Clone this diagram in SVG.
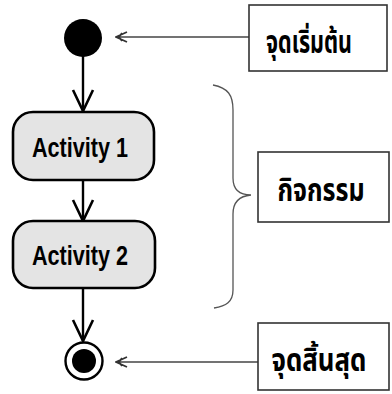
<svg xmlns="http://www.w3.org/2000/svg" width="392" height="394" viewBox="0 0 392 394">
<defs>
<style>
.act rect{fill:#e4e4e4;stroke:#000;stroke-width:2.6}
.act text{font-family:"Liberation Sans",Arial,sans-serif;font-weight:bold;font-size:27px;fill:#000;text-anchor:middle}
.lbl rect{fill:#fff;stroke:#333;stroke-width:1.6}
.lbl text{font-family:"Noto Sans Thai","Noto Sans","DejaVu Sans",sans-serif;font-weight:bold;font-size:31px;fill:#000;text-anchor:middle}
.flow{stroke:#000;stroke-width:2.4;fill:none}
.side{stroke:#444;stroke-width:1.4;fill:none}
</style>
<marker id="vopen" viewBox="0 0 24 24" refX="22" refY="12" markerWidth="24" markerHeight="24" markerUnits="userSpaceOnUse" orient="auto">
<path d="M1,2 L22,12 L1,22" fill="none" stroke="#000" stroke-width="2.6"/>
</marker>
<marker id="small" viewBox="0 0 14 12" refX="13" refY="6" markerWidth="14" markerHeight="12" markerUnits="userSpaceOnUse" orient="auto">
<path d="M2,1 L13,6 L2,11 M7,2 L10,6 L7,10" fill="none" stroke="#333" stroke-width="1.8"/>
</marker>
</defs>
<rect width="392" height="394" fill="#fff"/>
<g id="connectors">
<line class="flow" x1="83" y1="56" x2="83" y2="111" marker-end="url(#vopen)"/>
<line class="flow" x1="83" y1="180" x2="83" y2="221" marker-end="url(#vopen)"/>
<line class="flow" x1="83" y1="288" x2="83" y2="341" marker-end="url(#vopen)"/>
<line class="side" x1="249" y1="37" x2="116" y2="37" marker-end="url(#small)"/>
<line class="side" x1="258" y1="362" x2="116" y2="362" marker-end="url(#small)"/>
<path id="brace" d="M213,85 C228,88 233,95 233,110 L233,178 C233,190 240,195 251,195 C240,196 233,202 233,214 L233,290 C233,302 226,306 214,308" fill="none" stroke="#555" stroke-width="1.3"/>
</g>
<g id="start"><circle cx="83" cy="38" r="19" fill="#000"/></g>
<g id="activity1" class="act"><rect x="13" y="112" width="141" height="68" rx="20"/><text x="80" y="157" textLength="96" lengthAdjust="spacingAndGlyphs">Activity 1</text></g>
<g id="activity2" class="act"><rect x="13" y="221" width="142" height="67" rx="20"/><text x="80" y="265" textLength="96" lengthAdjust="spacingAndGlyphs">Activity 2</text></g>
<g id="end"><circle cx="84" cy="361" r="18.5" fill="#fff" stroke="#000" stroke-width="2.4"/><circle cx="84" cy="361" r="12" fill="#000"/></g>
<g id="label-start" class="lbl"><rect x="249" y="5" width="138" height="66"/><text x="309" y="53" textLength="86" lengthAdjust="spacingAndGlyphs">จุดเริ่มต้น</text></g>
<g id="label-activity" class="lbl"><rect x="258" y="152" width="131" height="70"/><text x="321" y="201" textLength="87" lengthAdjust="spacingAndGlyphs">กิจกรรม</text></g>
<g id="label-end" class="lbl"><rect x="258" y="323" width="131" height="67"/><text x="319" y="371" textLength="95" lengthAdjust="spacingAndGlyphs">จุดสิ้นสุด</text></g>
</svg>
